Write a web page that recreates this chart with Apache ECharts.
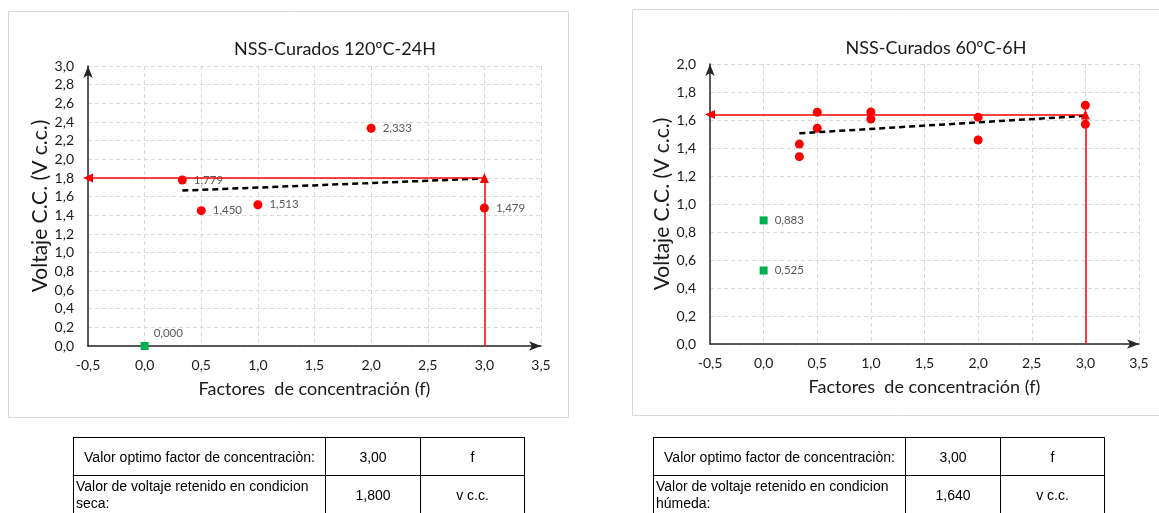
<!DOCTYPE html>
<html>
<head>
<meta charset="utf-8">
<script src="https://cdn.jsdelivr.net/npm/echarts@6/dist/echarts.min.js"></script>
<style>
html,body{margin:0;padding:0;background:#fff;}
#chart{position:absolute;left:0;top:0;width:1159px;height:513px;}
table.t{position:absolute;border-collapse:collapse;font-family:"Liberation Sans",Arial,sans-serif;font-size:14px;color:#000;table-layout:fixed;}
table.t td{border:1.5px solid #000;padding:0 2px;text-align:center;vertical-align:middle;white-space:nowrap;}
table.t td.l{text-align:left;line-height:17px;}
</style>
</head>
<body>
<div id="chart"></div>
<table class="t" id="t1" style="left:73px;top:437px;">
<tr style="height:38px"><td style="width:247px">Valor optimo factor de concentraciòn:</td><td style="width:90px">3,00</td><td style="width:99px">f</td></tr>
<tr style="height:38px"><td class="l">Valor de voltaje retenido en condicion<br>seca:</td><td>1,800</td><td>v c.c.</td></tr>
</table>
<table class="t" id="t2" style="left:653px;top:437px;">
<tr style="height:38px"><td style="width:247px">Valor optimo factor de concentraciòn:</td><td style="width:90px">3,00</td><td style="width:99px">f</td></tr>
<tr style="height:38px"><td class="l">Valor de voltaje retenido en condicion<br>húmeda:</td><td>1,640</td><td>v c.c.</td></tr>
</table>
<script>
// ---- data ----
const leftTitle = 'NSS-Curados 120ºC-24H';
const rightTitle = 'NSS-Curados 60ºC-6H';
const xName = 'Factores  de concentración (f)';
const yName = 'Voltaje C.C. (V c.c.)';

const leftRedX = [0.333, 0.5, 1.0, 2.0, 3.0];
const leftRedY = [1.779, 1.450, 1.513, 2.333, 1.479];
const leftGreenX = [0.0];
const leftGreenY = [0.000];
const leftTrendX = [0.333, 3.0];
const leftTrendY = [1.665, 1.795];
const leftOptX = 3.0;
const leftOptY = 1.800;

const rightRedX = [0.333, 0.333, 0.5, 0.5, 1.0, 1.0, 2.0, 2.0, 3.0, 3.0];
const rightRedY = [1.428, 1.338, 1.655, 1.541, 1.657, 1.607, 1.619, 1.457, 1.705, 1.569];
const rightGreenX = [0.0, 0.0];
const rightGreenY = [0.883, 0.525];
const rightTrendX = [0.333, 3.0];
const rightTrendY = [1.505, 1.630];
const rightOptX = 3.0;
const rightOptY = 1.640;

const xMin = -0.5, xMax = 3.5, xStep = 0.5;
const leftYMax = 3.0, rightYMax = 2.0, yStep = 0.2;

// ---- helpers ----
const FONT = 'Lato, "Open Sans", sans-serif';
const comma = (v, d) => v.toFixed(d).replace('.', ',');
const pairs = (xs, ys) => xs.map((x, i) => [x, ys[i]]);

function xAxisFor(gi) {
  return {
    type: 'value', gridIndex: gi, min: xMin, max: xMax, interval: xStep,
    name: xName, nameLocation: 'middle', nameGap: 34,
    nameTextStyle: {fontFamily: FONT, fontSize: 18, color: '#1a1a1a'},
    axisLine: {show: true, onZero: false, symbol: ['none', 'arrow'], symbolSize: [7, 12], lineStyle: {color: '#262626', width: 1.5}},
    axisTick: {show: false},
    axisLabel: {fontFamily: FONT, fontSize: 14, color: '#1a1a1a', margin: 12, formatter: v => comma(v, 1)},
    splitLine: {show: true, lineStyle: {color: '#d9d9d9', type: [4, 3], width: 1}}
  };
}
function yAxisFor(gi, max) {
  return {
    type: 'value', gridIndex: gi, min: 0, max: max, interval: yStep,
    name: yName, nameLocation: 'middle', nameGap: 36,
    nameTextStyle: {fontFamily: FONT, fontSize: 21, color: '#1a1a1a'},
    axisLine: {show: true, onZero: false, symbol: ['none', 'arrow'], symbolSize: [7, 12], lineStyle: {color: '#262626', width: 1.5}},
    axisTick: {show: false},
    axisLabel: {fontFamily: FONT, fontSize: 14, color: '#1a1a1a', margin: 14, formatter: v => comma(v, 1)},
    splitLine: {show: true, lineStyle: {color: '#d9d9d9', type: [4, 3], width: 1}}
  };
}
const valueLabel = {
  show: true, position: 'right', distance: 7, fontFamily: FONT, fontSize: 11.5, color: '#595959',
  formatter: p => comma(p.value[1], 3)
};
function optLines(gi, ox, oy) {
  return {
    type: 'line', xAxisIndex: gi, yAxisIndex: gi, data: [], silent: true,
    markLine: {
      silent: true, animation: false, symbol: ['none', 'triangle'], symbolSize: [9, 10],
      label: {show: false},
      lineStyle: {color: '#ff0000', width: 1.5, type: 'solid', opacity: 1},
      data: [
        [{coord: [ox, oy]}, {coord: [xMin, oy]}],
        [{coord: [ox, 0]}, {coord: [ox, oy]}]
      ]
    }
  };
}

const chart = echarts.init(document.getElementById('chart'), null, {renderer: 'canvas'});
chart.setOption({
  animation: false,
  backgroundColor: '#fff',
  title: [
    {text: leftTitle, left: 330, top: 35, textAlign: 'center', textStyle: {fontFamily: FONT, fontSize: 18, fontWeight: 'normal', color: '#1a1a1a'}},
    {text: rightTitle, left: 931, top: 34, textAlign: 'center', textStyle: {fontFamily: FONT, fontSize: 18, fontWeight: 'normal', color: '#1a1a1a'}}
  ],
  graphic: [
    {type: 'rect', shape: {x: 8.5, y: 11.5, width: 560, height: 406}, style: {fill: 'none', stroke: '#d9d9d9', lineWidth: 1}, silent: true},
    {type: 'rect', shape: {x: 632.5, y: 9.5, width: 540, height: 406}, style: {fill: 'none', stroke: '#d9d9d9', lineWidth: 1}, silent: true}
  ],
  grid: [
    {left: 88, top: 66, width: 453, height: 280},
    {left: 710, top: 64, width: 429, height: 280}
  ],
  xAxis: [xAxisFor(0), xAxisFor(1)],
  yAxis: [yAxisFor(0, leftYMax), yAxisFor(1, rightYMax)],
  series: [
    optLines(0, leftOptX, leftOptY),
    {type: 'line', xAxisIndex: 0, yAxisIndex: 0, data: pairs(leftTrendX, leftTrendY), showSymbol: false, symbol: 'none',
     lineStyle: {color: '#000', width: 2.5, type: [6, 4]}},
    {type: 'scatter', xAxisIndex: 0, yAxisIndex: 0, data: pairs(leftRedX, leftRedY), symbol: 'circle', symbolSize: 9,
     itemStyle: {color: '#ff0000', opacity: 1}, label: valueLabel},
    {type: 'scatter', xAxisIndex: 0, yAxisIndex: 0, data: pairs(leftGreenX, leftGreenY), symbol: 'rect', symbolSize: 8,
     itemStyle: {color: '#00b050', opacity: 1}, label: Object.assign({}, valueLabel, {offset: [-2, -13]})},

    optLines(1, rightOptX, rightOptY),
    {type: 'line', xAxisIndex: 1, yAxisIndex: 1, data: pairs(rightTrendX, rightTrendY), showSymbol: false, symbol: 'none',
     lineStyle: {color: '#000', width: 2.5, type: [6, 4]}},
    {type: 'scatter', xAxisIndex: 1, yAxisIndex: 1, data: pairs(rightRedX, rightRedY), symbol: 'circle', symbolSize: 9,
     itemStyle: {color: '#ff0000', opacity: 1}},
    {type: 'scatter', xAxisIndex: 1, yAxisIndex: 1, data: pairs(rightGreenX, rightGreenY), symbol: 'rect', symbolSize: 8,
     itemStyle: {color: '#00b050', opacity: 1}, label: valueLabel}
  ]
});
</script>
</body>
</html>
